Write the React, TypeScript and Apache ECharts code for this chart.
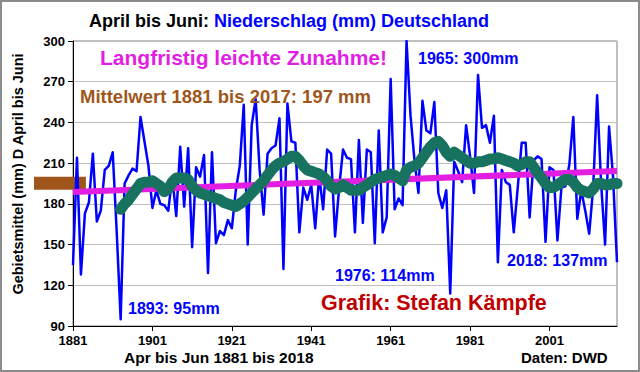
import React, { useEffect, useRef } from "react";
import * as echarts from "echarts";

// Categories: years 1881..2018
const years: string[] = Array.from({ length: 138 }, (_, i) => String(1881 + i));

// April–June precipitation (mm), Germany
const precipitation: number[] = [
  135, 214, 128, 173, 181, 217, 167, 175, 205, 208, // 1881-1890
  218, 160, 95, 195, 201, 206, 204, 244, 226, 208, // 1891-1900
  177, 190, 180, 179, 175, 200, 171, 222, 178, 221, // 1901-1910
  148, 207, 200, 216, 129, 218, 151, 160, 157, 168, // 1911-1920
  162, 190, 208, 253, 150, 238, 257, 205, 172, 217, // 1921-1930
  221, 223, 243, 132, 254, 226, 225, 159, 192, 183, // 1931-1940
  194, 162, 201, 176, 220, 217, 156, 191, 220, 214, // 1941-1950
  213, 159, 227, 166, 220, 218, 151, 234, 159, 170, // 1951-1960
  272, 176, 184, 179, 300, 245, 212, 188, 256, 234, // 1961-1970
  232, 255, 188, 177, 190, 114, 211, 204, 196, 238, // 1971-1980
  215, 188, 275, 236, 238, 225, 245, 137, 205, 196, // 1981-1990
  194, 159, 192, 225, 225, 170, 212, 215, 213, 152, // 1991-2000
  207, 205, 153, 192, 193, 209, 244, 169, 190, 175, // 2001-2010
  158, 192, 260, 195, 150, 237, 200, 137,           // 2011-2018
];

// Smoothed (moving average) curve, 1893..2018
const movingAverageFirstYear = "1893";
const movingAverage: number[] = [
  176, 180, 183, 187, 191, 195, 196, 196, 197, 195, // 1893-1902
  193, 189, 191, 196, 199, 199, 199, 198, 193, 190, // 1903-1912
  188, 187, 186, 185, 184, 183, 181, 180, 179, 178, // 1913-1922
  180, 182, 185, 188, 191, 194, 197, 201, 205, 208, // 1923-1932
  210, 211, 213, 215, 215, 212, 208, 205, 204, 203, // 1933-1942
  202, 200, 197, 193, 191, 192, 194, 192, 190, 190, // 1943-1952
  190, 192, 194, 196, 198, 199, 200, 201, 202, 201, // 1953-1962
  199, 197, 205, 207, 208, 210, 214, 218, 222, 225, // 1963-1972
  226, 223, 218, 215, 218, 216, 214, 212, 210, 210, // 1973-1982
  211, 211, 212, 213, 213, 214, 213, 212, 211, 210, // 1983-1992
  208, 209, 211, 211, 207, 203, 199, 195, 192, 192, // 1993-2002
  194, 196, 198, 198, 196, 192, 190, 189, 188, 191, // 2003-2012
  195, 195, 194, 194, 195, 195,                     // 2013-2018
];

// Linear trend end points
const trendFirst = 188.8;
const trendLast = 204.2;

// Long-term mean
const meanValue = 197;
const meanBarEndYear = "1884";

// Axis ticks
const yMin = 90;
const yMax = 300;
const yStep = 30;
const xLabelYears = ["1881", "1901", "1921", "1941", "1961", "1981", "2001"];

const FONT = "'Liberation Sans', Arial, Helvetica, sans-serif";

export default function App() {
  const ref = useRef<HTMLDivElement>(null);

  useEffect(() => {
    document.body.style.margin = "0";
    const chart = echarts.init(ref.current!, null, { renderer: "svg" });

    const maStart = years.indexOf(movingAverageFirstYear);
    const maData = years.map((_, i) =>
      i >= maStart && i - maStart < movingAverage.length ? movingAverage[i - maStart] : null
    );
    const trendData = years.map((_, i) =>
      i === 0 ? trendFirst : i === years.length - 1 ? trendLast : null
    );
    const showYear = (_i: number, v: string) => xLabelYears.indexOf(v) >= 0;

    chart.setOption({
      animation: false,
      backgroundColor: "#ffffff",
      title: {
        text: "{a|April bis Juni: }{b|Niederschlag (mm) Deutschland}",
        left: 84,
        top: 7,
        textStyle: {
          rich: {
            a: { color: "#000000", fontSize: 18, fontWeight: "bold", fontFamily: FONT },
            b: { color: "#0000ff", fontSize: 18, fontWeight: "bold", fontFamily: FONT },
          },
        },
      },
      grid: {
        left: 73,
        right: 23,
        top: 41,
        bottom: 46,
        show: true,
        borderColor: "#808080",
        borderWidth: 1,
        backgroundColor: "#ffffff",
      },
      xAxis: {
        type: "category",
        data: years,
        boundaryGap: false,
        axisLine: { show: true, lineStyle: { color: "#000000", width: 1 } },
        axisTick: { show: true, interval: showYear, length: 5, lineStyle: { color: "#000000" } },
        axisLabel: {
          interval: showYear,
          fontSize: 13,
          fontWeight: "bold",
          color: "#000000",
          margin: 8,
          fontFamily: FONT,
        },
        splitLine: { show: false },
      },
      yAxis: {
        type: "value",
        min: yMin,
        max: yMax,
        interval: yStep,
        axisLine: { show: true, lineStyle: { color: "#000000", width: 1 } },
        axisTick: { show: true, length: 5, lineStyle: { color: "#000000" } },
        axisLabel: {
          fontSize: 13,
          fontWeight: "bold",
          color: "#000000",
          margin: 8,
          fontFamily: FONT,
        },
        splitLine: { show: true, lineStyle: { color: "#c0c0c0", width: 1 } },
      },
      series: [
        {
          name: "Niederschlag",
          type: "line",
          data: precipitation,
          symbol: "none",
          lineStyle: { color: "#0000ff", width: 2.5, join: "round" },
          z: 2,
        },
        {
          name: "Trend",
          type: "line",
          data: trendData,
          connectNulls: true,
          symbol: "none",
          lineStyle: { color: "#e21ee2", width: 6 },
          z: 3,
        },
        {
          name: "Gleitender Mittelwert",
          type: "line",
          data: maData,
          symbol: "none",
          lineStyle: { color: "#17735f", width: 11, cap: "round", join: "round" },
          z: 4,
        },
      ],
    });

    const yMean = chart.convertToPixel({ yAxisIndex: 0 }, meanValue) as number;
    const xBarEnd = chart.convertToPixel({ xAxisIndex: 0 }, meanBarEndYear) as number;

    const txt = (text: string, x: number, y: number, color: string, size: number) => ({
      type: "text",
      x,
      y,
      z: 100,
      style: {
        text,
        fill: color,
        font: `bold ${size}px ${FONT}`,
        align: "left",
        verticalAlign: "middle",
        textAlign: "left",
        textVerticalAlign: "middle",
      },
    });

    chart.setOption({
      graphic: [
        {
          type: "rect",
          z: 1,
          shape: { x: 34, y: yMean - 4, width: xBarEnd + 1 - 34, height: 13 },
          style: { fill: "#a0561b" },
        },
        {
          type: "rect",
          z: 0,
          silent: true,
          shape: { x: 1, y: 1, width: 638, height: 370 },
          style: { fill: "none", stroke: "#8c8c8c", lineWidth: 2 },
        },
        txt("Langfristig leichte Zunahme!", 100, 57, "#e21ee2", 21),
        txt("Mittelwert 1881 bis 2017: 197 mm", 80, 96, "#a0561b", 18.5),
        txt("1965: 300mm", 418, 58, "#0000ff", 16),
        txt("1893: 95mm", 128, 308, "#0000ff", 16),
        txt("1976: 114mm", 335, 275, "#0000ff", 16),
        txt("2018: 137mm", 507, 260, "#0000ff", 16),
        txt("Grafik: Stefan Kämpfe", 321, 303, "#c00000", 21.5),
        txt("Daten: DWD", 521, 357, "#000000", 15),
        txt("Apr bis Jun 1881 bis 2018", 124, 357, "#000000", 15.5),
        {
          type: "text",
          x: 18,
          y: 174,
          rotation: Math.PI / 2,
          z: 100,
          style: {
            text: "Gebietsmittel (mm) D April bis Juni",
            fill: "#000000",
            font: `bold 14.5px ${FONT}`,
            align: "center",
            verticalAlign: "middle",
            textAlign: "center",
            textVerticalAlign: "middle",
          },
        },
      ],
    });

    return () => chart.dispose();
  }, []);

  return <div ref={ref} style={{ width: 640, height: 372 }} />;
}
